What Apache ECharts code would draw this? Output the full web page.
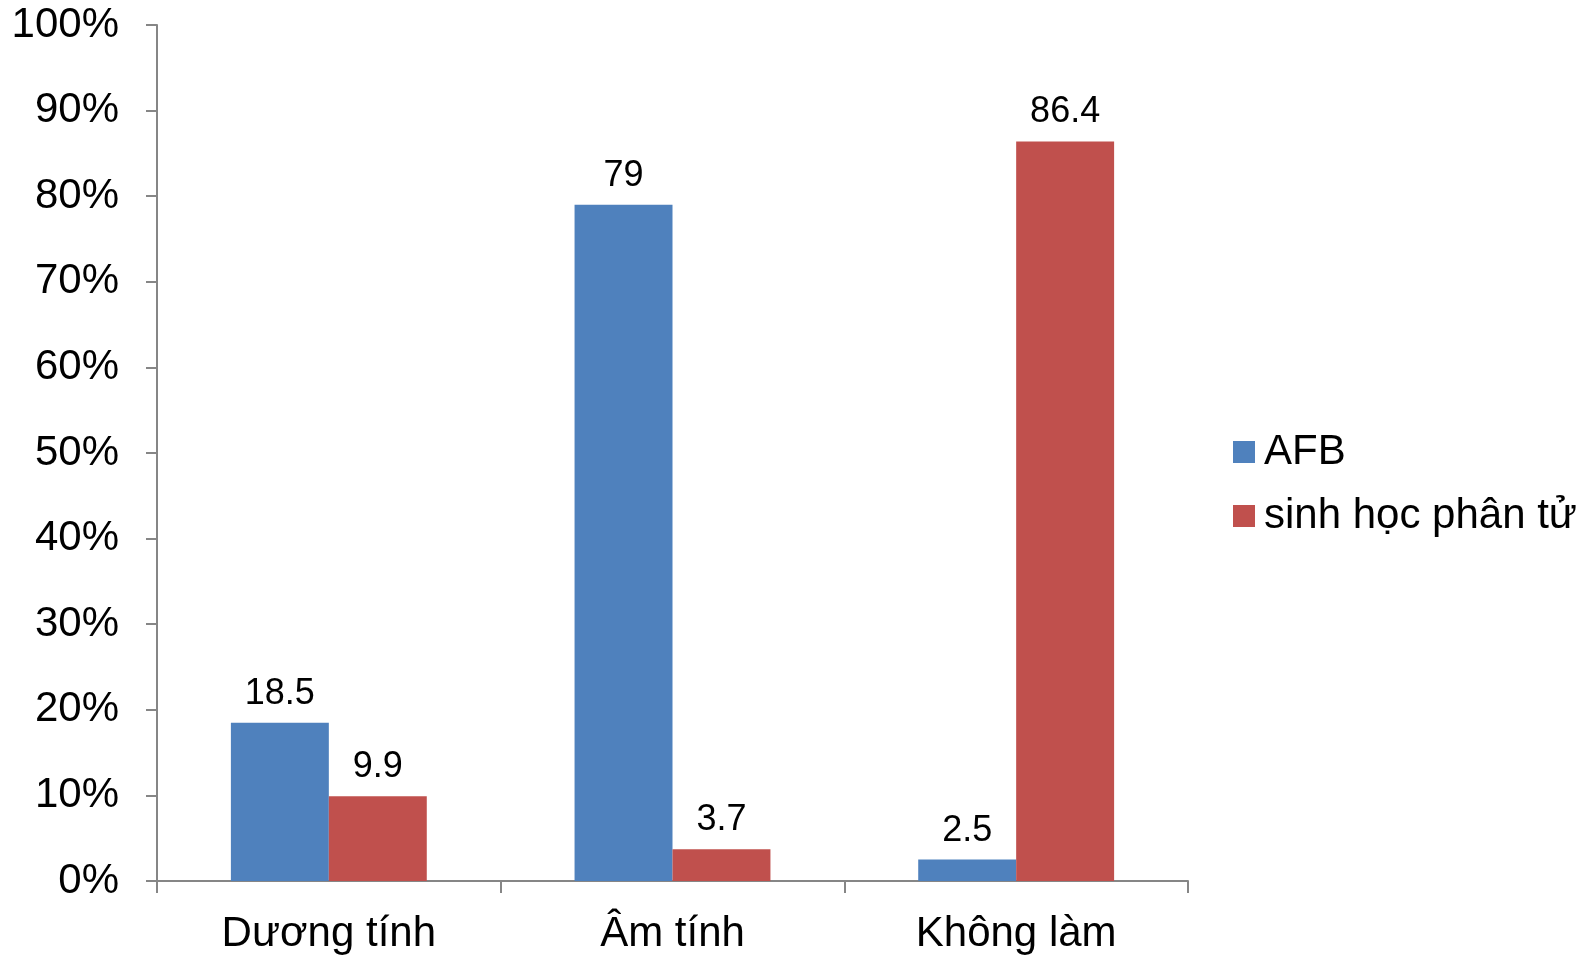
<!DOCTYPE html>
<html><head><meta charset="utf-8">
<script src="https://cdn.jsdelivr.net/npm/echarts@6/dist/echarts.min.js"></script>
<style>html,body{margin:0;padding:0;background:#fff}#c{width:1594px;height:957px}</style>
</head><body><div id="c"></div>
<script>
const categories = ['Dương tính', 'Âm tính', 'Không làm'];
const afb = [18.5, 79, 2.5];
const sinhHoc = [9.9, 3.7, 86.4];
const seriesNames = ['AFB', 'sinh học phân tử'];
const font = '"Liberation Sans", Arial, sans-serif';
const chart = echarts.init(document.getElementById('c'));
const lbl = {show: true, position: 'top', distance: 11, fontSize: 36, color: '#000', fontFamily: font};
chart.setOption({
  animation: false,
  textStyle: {fontFamily: font},
  grid: {left: 157, right: 406, top: 25, bottom: 76, containLabel: false},
  legend: {
    orient: 'vertical', left: 1228, top: 426, itemWidth: 22, itemHeight: 22, itemGap: 22,
    icon: 'rect',
    textStyle: {fontSize: 42, color: '#000', fontFamily: font, padding: [0, 0, 0, 4]},
    data: seriesNames
  },
  xAxis: {
    type: 'category', data: categories,
    axisLine: {lineStyle: {color: '#868686', width: 2}},
    axisTick: {show: true, length: 12, lineStyle: {color: '#868686', width: 2}},
    axisLabel: {fontSize: 42, color: '#000', margin: 32, fontFamily: font}
  },
  yAxis: {
    type: 'value', min: 0, max: 100, interval: 10,
    axisLine: {show: true, lineStyle: {color: '#868686', width: 2}},
    axisTick: {show: true, length: 11, lineStyle: {color: '#868686', width: 2}},
    splitLine: {show: false},
    axisLabel: {fontSize: 42, color: '#000', margin: 38, formatter: '{value}%', fontFamily: font, padding: [5, 0, 0, 0]}
  },
  series: [
    {name: seriesNames[0], type: 'bar', data: afb, itemStyle: {color: '#4F81BD'}, barGap: 0, barCategoryGap: '43%', label: lbl},
    {name: seriesNames[1], type: 'bar', data: sinhHoc, itemStyle: {color: '#C0504D'}, barGap: 0, barCategoryGap: '43%', label: lbl}
  ]
});
</script></body></html>
